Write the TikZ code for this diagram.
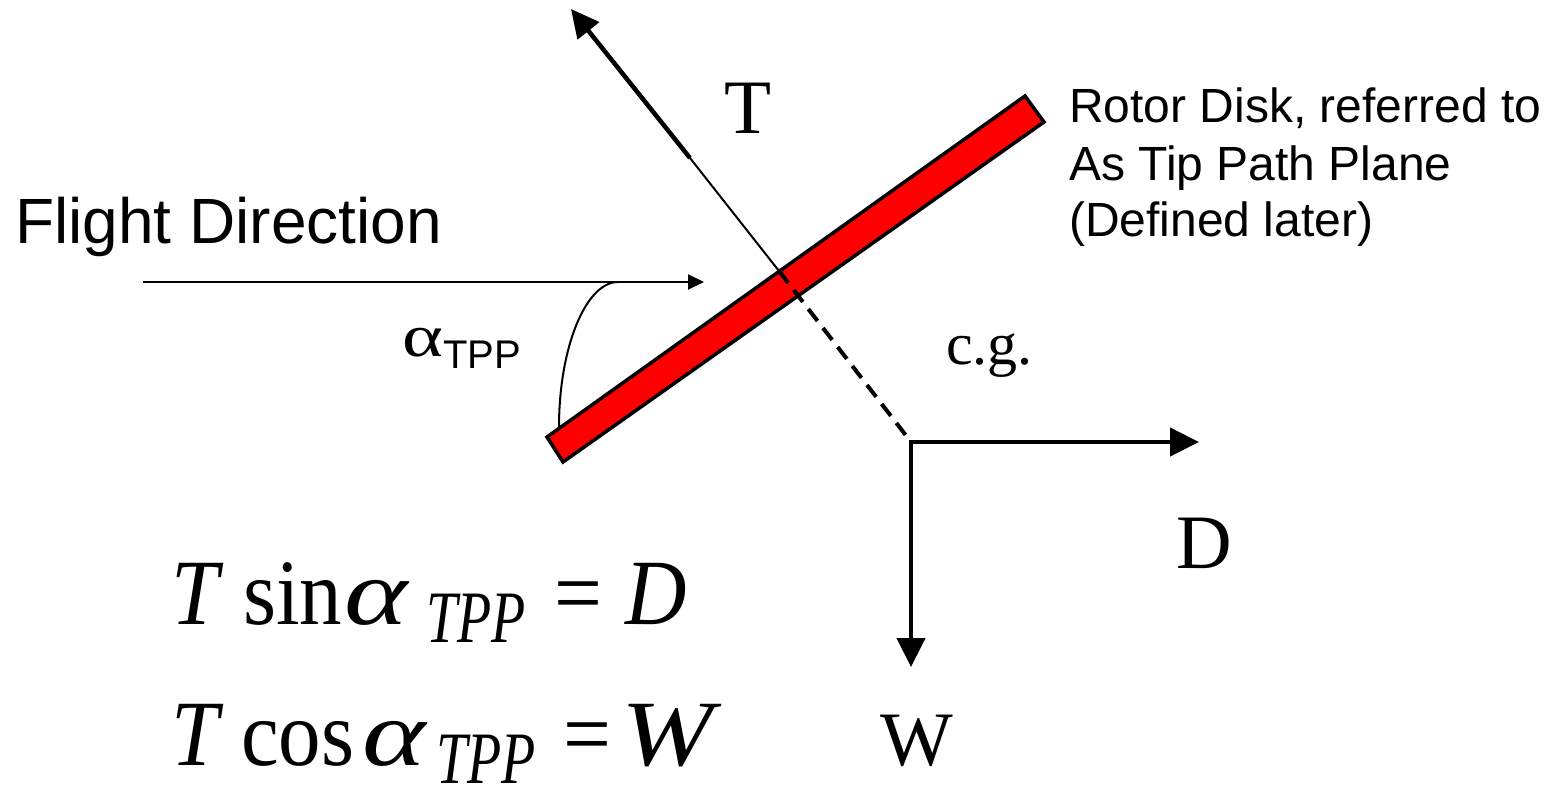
\documentclass[tikz,border=0pt]{standalone}
\usepackage{fontspec}
\usepackage{graphicx}
\setmainfont{Liberation Serif}
\newfontfamily\arial{Liberation Sans}
\usetikzlibrary{arrows.meta}
\newcommand{\eqp}[2]{\makebox[#1][l]{#2}}
\newcommand{\eqsub}{\raisebox{-17pt}{\scalebox{1}[1.2]{\fontsize{56}{56}\selectfont\textit{TPP}}}}
\newcommand{\eqalpha}{\scalebox{1.42}[1]{\textit{α}}}
\begin{document}
\begin{tikzpicture}[x=1pt,y=-1pt,
  thinline/.style={line width=2pt},
  thickarrow/.style={line width=4.5pt,-{Triangle[length=29pt,width=28pt]}},
  lbl/.style={inner sep=0pt,anchor=base west},
  serifbig/.style={font=\fontsize{77}{77}\selectfont},
  sansrotor/.style={font=\arial\fontsize{48}{48}\selectfont},
  eqstyle/.style={lbl,font=\fontsize{85}{85}\selectfont}]
\useasboundingbox (0,0) rectangle (1552,792);
% key points
\coordinate (tip) at (571,9);
\coordinate (kink) at (690,158);
\coordinate (hub) at (779,271);
\coordinate (cg) at (911,442);
\coordinate (Dtip) at (1199,442);
\coordinate (Wtip) at (911,667);
\coordinate (fstart) at (143,282);
\coordinate (fend) at (704,282);
\coordinate (arcA) at (559,427);
\coordinate (arcB) at (618,282);
% rotor disk
\draw[line width=3.5pt,fill=red,line join=miter] (547,437) -- (563,462) -- (1044,122) -- (1025,96) -- cycle;
% thrust vector
\draw[thinline] (hub) -- (kink);
\draw[line width=4.5pt,-{Triangle[length=28pt,width=27pt]}] (kink) -- (tip);
\draw[line width=4pt,dash pattern=on 15pt off 9pt] (hub) -- (cg);
% D and W
\draw[thickarrow,line cap=rect] (cg) -- (Dtip);
\draw[thickarrow] (cg) -- (Wtip);
% flight direction
\draw[thinline,-{Triangle[length=16pt,width=15pt]}] (fstart) -- (fend);
\draw[thinline] (arcA) .. controls (559,347) and (586,282) .. (arcB);
% labels
\node[lbl,font=\arial\fontsize{64}{64}\selectfont] (flight) at (15,243) {Flight Direction};
\node[lbl,sansrotor] (rot1) at (1069,122) {Rotor Disk, referred to};
\node[lbl,sansrotor] (rot2) at (1069,180) {As Tip Path Plane};
\node[lbl,sansrotor] (rot3) at (1069,236) {(Defined later)};
\node[lbl,serifbig] (Tlbl) at (724,133) {T};
\node[lbl,font=\fontsize{60}{60}\selectfont] (cglbl) at (946,364) {c.g.};
\node[lbl,serifbig] (Dlbl) at (1176,568) {D};
\node[lbl,serifbig] (Wlbl) at (880,765) {W};
\node[lbl,font=\fontsize{60}{60}\selectfont] (alpha) at (402,356) {\scalebox{1.3}[1]{α}};
\node[lbl,font=\arial\fontsize{40}{40}\selectfont] (tpp) at (443,368) {TPP};
% equations
\node[eqstyle] (eq1) at (171,624)
  {\scalebox{1}[1.1]{\eqp{72pt}{\textit{T}}\eqp{101pt}{sin}\eqp{82pt}{\eqalpha}\eqp{128pt}{\eqsub}\eqp{71pt}{=}\textit{D}}};
\node[eqstyle] (eq2) at (171,765)
  {\scalebox{1}[1.1]{\eqp{70pt}{\textit{T}}\eqp{121pt}{cos}\eqp{74pt}{\eqalpha}\eqp{127pt}{\eqsub}\eqp{58pt}{=}\scalebox{1.3}[1]{\textit{W}}}};
\end{tikzpicture}
\end{document}
